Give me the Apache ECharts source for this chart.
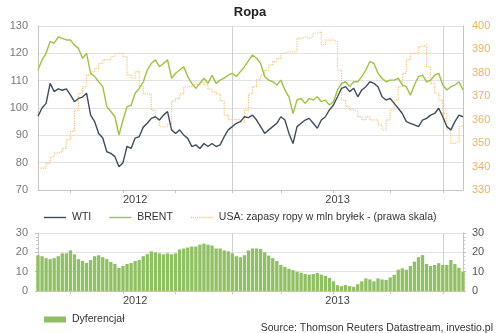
<!DOCTYPE html>
<html>
<head>
<meta charset="utf-8">
<script src="https://cdn.jsdelivr.net/npm/echarts@6/dist/echarts.min.js"></script>
<style>
html,body{margin:0;padding:0;background:#fff;}
#c{width:500px;height:333px;}
</style>
</head>
<body>
<div id="c"></div>
<script>
// Weekly observations starting 2012-02-03
const startDay = '2012-02-03';
const yearLabels = ['2012', '2013'];
const wti = [97,100,101.7,109,106,107,106.5,107,104.8,102.3,103.5,104,105.4,97.4,95,90.7,89,84,83.4,82.2,78.5,80,86,85.2,89,89.5,93,
94.4,96.2,96.8,95.6,97.4,98.7,92,90.7,92,90.1,88.9,85.9,86.5,85.2,87,85.9,87,85.9,86.5,89.5,92,93.2,94.4,95,96.8,96.5,
97.4,95.6,93.2,90.7,92,93.2,94.4,96.8,95.6,90.7,87,93.2,94.4,95.6,96.2,94.4,92.6,95.6,96.8,99.3,101.1,104.1,107.2,107.8,106,107.2,
104.1,106.6,107.8,109.6,109,107.8,104.1,102.9,103.5,101.7,99.9,98,95,94.4,93.8,93.2,95.6,96.2,97.4,98,99.9,96.8,93.2,92,95,97.4,96.8];
const brent = [114,117.6,120,124.3,123.7,126,125.5,124.9,124.9,123,121.8,118.2,120,112.7,111.5,109.6,107.8,100.5,98.7,96.8,90.1,95.6,100.5,101,105.4,107.2,109.5,
113.9,116.3,117.6,115.1,116.3,117.6,110.9,112.7,113.9,115.1,111.5,109,107.2,109,110.9,109,112,109,110.2,110.9,112,112.7,111.5,113.3,115.1,117.3,
119.4,118.2,116.3,111.5,110.2,109.6,108.4,110.2,106.6,104.1,98,102.9,103.5,101.7,103.5,102.9,104.1,102.3,102.9,101.1,102.3,106.6,109,109.6,107.8,109.6,
109.6,111.5,113.9,117,116.3,112.7,110.9,109.6,110.2,110.2,110.9,108.4,107.8,104.7,108.4,111.5,112,109.6,110.2,112,112.7,108.4,106.6,107.8,108.4,109.6,106.6];
const usaStocks = [339.3,339.3,341.4,344.2,345.7,346.4,347.8,351.4,355,364,371.3,374.1,379.1,380.5,381.9,384,385.5,385.5,386.9,388.3,388.3,386.9,379.1,377.7,380.5,374.1,371,
371,364,360,357,357,358,368,369,371,374,374,375,375,376,375,373,372,371,368,362,360,360,360,359,364,371,
374.1,377,379.1,381.2,383.4,384.8,386.2,388.3,389,389,389,394.7,395.4,394.7,395.4,396.9,397.6,391.9,394,394,393.3,381.2,368.4,365.6,364.2,363.4,
361.3,359.9,361.3,359.9,359.9,357.8,355.6,359.9,364.2,368.4,374.1,379.8,385.5,388.3,388.3,391.2,391.9,382.6,375.5,371.3,368.4,362.7,355.6,349.9,350.6,357,357.8];
const spread = [18.5,18,17,16.5,17,18,19.5,19.5,21,19,16.5,15.5,14.5,16,18,18.5,17.5,16.5,15,14,12,13,14,14.5,15.5,16,18,
19,20.5,20,19.5,19,19.5,19,19.5,21.5,22,22.5,23,23,24,24.5,24,23.5,22,22,21,20.5,19.5,18,17.5,18.5,21,
22,22,21.8,20,18.3,17,15.5,13.5,12.5,11.5,10.8,10,9.5,8.8,8.5,8.8,9.3,8.5,7.8,6.8,5,3,2.5,3,2.5,2.2,
3.5,5,6.5,6,5,6.5,6,5.7,7,8.4,11,11.7,11,13,15.2,17.5,18.6,14,13,13.5,14.4,13.5,13.5,16,14,12,10];

const nameWTI = 'WTI', nameBrent = 'BRENT', nameUSA = 'USA: zapasy ropy w mln bryłek - (prawa skala)', nameSpread = 'Dyferencjał';

const DAY = 86400000;
const t0 = Date.parse(startDay + 'T00:00:00Z');
const dates = wti.map((_, i) => new Date(t0 + i * 7 * DAY).toISOString().slice(0, 10));
const idxOf = (d) => (Date.parse(d + 'T00:00:00Z') - t0) / (7 * DAY);
const quarterIdx = [], yearIdx = [], labelIdx = [];
['2012-04-01','2012-07-01','2012-10-01','2013-01-01','2013-04-01','2013-07-01','2013-10-01','2014-01-01'].forEach(d => quarterIdx.push(Math.round(idxOf(d))));
['2013-01-01','2014-01-01'].forEach(d => yearIdx.push(Math.round(idxOf(d))));
const last = dates.length - 1;
yearLabels.forEach(y => {
  const a = Math.max(0, idxOf(y + '-01-01'));
  const b = Math.min(last, idxOf((+y + 1) + '-01-01'));
  labelIdx.push(Math.round((a + b) / 2));
});

const FONT = 'Liberation Sans, Arial, sans-serif';
const gridLine = '#e2e2e2', axisCol = '#c4c4c4';
const solidIcon = 'path://M0,0H22V1.4H0Z';
let dotted = '';
for (let k = 0; k < 22; k += 2.2) dotted += 'M' + k + ',0h1.2v1.4h-1.2Z';
const dottedIcon = 'path://' + dotted;

function xAxis(grid) {
  return {
    type: 'category', gridIndex: grid, data: dates, boundaryGap: false,
    axisLine: {lineStyle: {color: axisCol}},
    axisTick: {interval: (i) => quarterIdx.includes(i), length: 3, lineStyle: {color: axisCol}},
    axisLabel: {interval: (i) => labelIdx.includes(i), formatter: v => v.slice(0, 4), color: '#444', fontSize: 11, fontFamily: FONT, margin: 4},
    splitLine: {show: true, interval: (i) => yearIdx.includes(i), lineStyle: {color: '#cfcfcf'}}
  };
}

const chart = echarts.init(document.getElementById('c'), null, {renderer: 'canvas'});
chart.setOption({
  animation: false,
  textStyle: {fontFamily: FONT},
  title: [
    {text: 'Ropa', left: 'center', top: 1, textStyle: {fontSize: 13, fontWeight: 'bold', color: '#222', fontFamily: FONT}},
    {text: 'Source: Thomson Reuters Datastream, investio.pl', right: 2, top: 318, textStyle: {fontSize: 10.5, fontWeight: 'normal', color: '#333', fontFamily: FONT}}
  ],
  grid: [
    {left: 38, right: 37, top: 26, height: 164},
    {left: 38, right: 37, top: 233, height: 58}
  ],
  legend: [
    {data: [{name: nameWTI, icon: solidIcon}, {name: nameBrent, icon: solidIcon}, {name: nameUSA, icon: dottedIcon}],
     left: 39, top: 207, itemWidth: 22, itemHeight: 1.4, itemGap: 18,
     textStyle: {fontSize: 10.5, color: '#333', fontFamily: FONT, padding: [0, 0, 0, 1]}},
    {data: [nameSpread], left: 39, top: 309, itemWidth: 22, itemHeight: 6, icon: 'rect',
     textStyle: {fontSize: 10.5, color: '#333', fontFamily: FONT, padding: [0, 0, 0, 1]}}
  ],
  xAxis: [xAxis(0), xAxis(1)],
  yAxis: [
    {type: 'value', gridIndex: 0, min: 70, max: 130, interval: 10, position: 'left',
     axisLine: {show: true, lineStyle: {color: axisCol}}, axisTick: {show: false},
     axisLabel: {color: '#777', fontSize: 11, fontFamily: FONT, margin: 10},
     splitLine: {lineStyle: {color: gridLine}}},
    {type: 'value', gridIndex: 0, min: 330, max: 400, interval: 10, position: 'right',
     axisLine: {show: true, lineStyle: {color: axisCol}}, axisTick: {show: false},
     axisLabel: {color: '#e8b55e', fontSize: 11, fontFamily: FONT, margin: 9},
     splitLine: {show: false}},
    {type: 'value', gridIndex: 1, min: 0, max: 30, interval: 10, position: 'left',
     axisLine: {show: true, lineStyle: {color: axisCol}}, axisTick: {show: true, length: 3, lineStyle: {color: axisCol}},
     minorTick: {show: true, splitNumber: 5, length: 2, lineStyle: {color: axisCol}},
     axisLabel: {color: '#777', fontSize: 11, fontFamily: FONT, margin: 10},
     splitLine: {lineStyle: {color: gridLine}}},
    {type: 'value', gridIndex: 1, min: 0, max: 30, interval: 10, position: 'right',
     axisLine: {show: true, lineStyle: {color: axisCol}}, axisTick: {show: true, length: 3, lineStyle: {color: axisCol}},
     minorTick: {show: true, splitNumber: 5, length: 2, lineStyle: {color: axisCol}},
     axisLabel: {color: '#555', fontSize: 11, fontFamily: FONT, margin: 9},
     splitLine: {show: false}}
  ],
  series: [
    {name: nameUSA, type: 'line', xAxisIndex: 0, yAxisIndex: 1, data: usaStocks, step: 'end', symbol: 'none',
     lineStyle: {color: '#f2c579', width: 1.2, type: 'dotted'}, itemStyle: {color: '#f2c579'}, z: 1},
    {name: nameBrent, type: 'line', xAxisIndex: 0, yAxisIndex: 0, data: brent, symbol: 'none',
     lineStyle: {color: '#9cc33e', width: 1.4}, itemStyle: {color: '#9cc33e'}, z: 2},
    {name: nameWTI, type: 'line', xAxisIndex: 0, yAxisIndex: 0, data: wti, symbol: 'none',
     lineStyle: {color: '#3e4d5c', width: 1.4}, itemStyle: {color: '#3e4d5c'}, z: 3},
    {name: nameSpread, type: 'bar', xAxisIndex: 1, yAxisIndex: 2, data: spread, barCategoryGap: '18%',
     itemStyle: {color: '#8fc062'}}
  ]
});
</script>
</body>
</html>
